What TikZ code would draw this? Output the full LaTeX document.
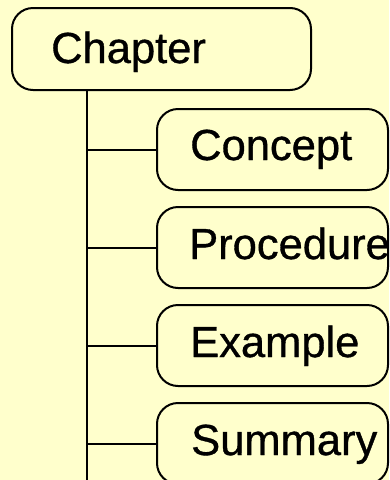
\documentclass[tikz,border=0pt]{standalone}
\usepackage{fontspec}
\setmainfont[FakeBold=0.8]{Liberation Sans}
\definecolor{bg}{HTML}{FFFFCC}
\begin{document}
\begin{tikzpicture}[x=1pt,y=-1pt,
  box/.style={draw=black,line width=2pt,fill=bg,rounded corners=21pt,inner sep=0pt},
  lbl/.style={anchor=base west,inner sep=0pt,font=\fontsize{43.5}{48}\selectfont},
  conn/.style={draw=black,line width=2pt}]
\fill[bg] (0,0) rectangle (389,480);
\useasboundingbox (0,0) rectangle (389,480);
\clip (0,0) rectangle (389,480);
% chapter
\node[box,minimum width=299pt,minimum height=82pt] (chap) at (161.5,49) {};
\node[lbl] (tchap) at (51,63) {Chapter};
% children
\node[box,minimum width=231pt,minimum height=81pt] (b1) at (272.5,149.5) {};
\node[box,minimum width=231pt,minimum height=81pt] (b2) at (272.5,247.5) {};
\node[box,minimum width=231pt,minimum height=81pt] (b3) at (272.5,345.5) {};
\node[box,minimum width=231pt,minimum height=81pt] (b4) at (272.5,443.5) {};
\node[lbl] (t1) at (190,160) {Concept};
\node[lbl] (t2) at (189,259) {Procedure};
\node[lbl] (t3) at (190,357) {Example};
\node[lbl] (t4) at (191,455) {Summary};
% connectors
\coordinate (top) at (87,90);
\coordinate (bot) at (87,482);
\coordinate (j1) at (87,149.5);
\coordinate (j2) at (87,247.5);
\coordinate (j3) at (87,345.5);
\coordinate (j4) at (87,443.5);
\draw[conn] (top) -- (bot);
\draw[conn] (j1) -- (b1.west);
\draw[conn] (j2) -- (b2.west);
\draw[conn] (j3) -- (b3.west);
\draw[conn] (j4) -- (b4.west);
\end{tikzpicture}
\end{document}
